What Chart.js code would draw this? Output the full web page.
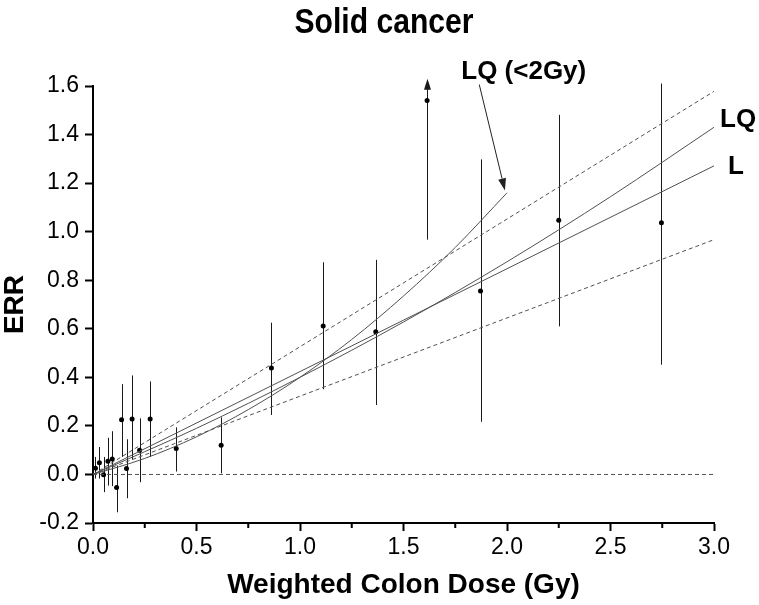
<!DOCTYPE html>
<html><head><meta charset="utf-8">
<script src="https://cdn.jsdelivr.net/npm/chart.js@4/dist/chart.umd.min.js"></script>
<style>html,body{margin:0;padding:0;background:#fff}</style>
</head><body>
<canvas id="c" width="759" height="605"></canvas>
<script>
// ---- data ----
const doses   = [0.012, 0.031, 0.051, 0.072, 0.093, 0.114, 0.138, 0.162, 0.189, 0.225, 0.276, 0.402, 0.619, 0.862, 1.112, 1.366, 1.614, 1.872, 2.250, 2.746];
const errVals = [0.026, 0.048, -0.001, 0.054, 0.064, -0.054, 0.225, 0.025, 0.228, 0.100, 0.228, 0.107, 0.120, 0.438, 0.611, 0.588, 1.540, 0.756, 1.047, 1.037];
const errLow  = [-0.017, -0.017, -0.073, -0.046, -0.048, -0.156, 0.072, -0.098, 0.062, -0.032, 0.072, 0.012, 0.005, 0.245, 0.351, 0.286, 0.967, 0.217, 0.610, 0.452];
const errHigh = [0.072, 0.113, 0.072, 0.151, 0.178, 0.037, 0.372, 0.145, 0.408, 0.231, 0.383, 0.194, 0.235, 0.625, 0.874, 0.884, 1.630, 1.298, 1.481, 1.610];
const errOpen = [false,false,false,false,false,false,false,false,false,false,false,false,false,false,false,false,true,false,false,false];

const lDose  = [0, 3.0];
const lERR   = [0, 1.271];
const lqDose = [0, 0.5, 1.0, 1.5, 2.0, 2.5, 3.0];
const lqERR  = [0, 0.190, 0.400, 0.628, 0.876, 1.144, 1.430];
const lq2Dose = [0, 0.25, 0.5, 0.75, 1.0, 1.25, 1.5, 1.75, 2.0];
const lq2ERR  = [0, 0.066, 0.155, 0.267, 0.400, 0.556, 0.735, 0.935, 1.160];
const ciDose  = [0, 3.0];
const ciUpper = [0, 1.578];
const ciLower = [0, 0.967];
const zeroDose = [0, 3.0];
const zeroERR  = [0, 0];

const xTicks = [0, 0.5, 1.0, 1.5, 2.0, 2.5, 3.0];
const xMinorTicks = [0.25, 0.75, 1.25, 1.75, 2.25, 2.75];
const yTicks = [-0.2, 0, 0.2, 0.4, 0.6, 0.8, 1.0, 1.2, 1.4, 1.6];

const titleText = 'Solid cancer';
const xTitle = 'Weighted Colon Dose (Gy)';
const yTitle = 'ERR';
const labelLQ2 = 'LQ (<2Gy)';
const labelLQ = 'LQ';
const labelL = 'L';
const arrowFrom = [1.866, 1.606];
const arrowTo   = [1.99, 1.17];

// ---- build ----
const pts = (xs, ys) => xs.map((x, i) => ({x, y: ys[i]}));
const FONT = "'Liberation Sans', Arial, sans-serif";
const lineCol = '#505050';

const lineDs = (label, xs, ys, dash, curved) => ({
  label, data: pts(xs, ys), showLine: true, pointRadius: 0, borderColor: lineCol,
  borderWidth: 1, borderDash: dash || [], fill: false,
  cubicInterpolationMode: curved ? 'monotone' : 'default', tension: 0
});

const errorBars = {
  id: 'errorBars',
  beforeDatasetsDraw(chart) {
    const {ctx, scales: {x, y}} = chart;
    ctx.save();
    ctx.strokeStyle = '#1a1a1a';
    ctx.fillStyle = '#1a1a1a';
    ctx.lineWidth = 1;
    doses.forEach((d, i) => {
      const px = Math.round(x.getPixelForValue(d)) + 0.5;
      const y1 = y.getPixelForValue(errLow[i]);
      const y2 = y.getPixelForValue(errHigh[i]);
      ctx.beginPath();
      ctx.moveTo(px, y1);
      ctx.lineTo(px, errOpen[i] ? y2 + 8 : y2);
      ctx.stroke();
      if (errOpen[i]) {
        ctx.beginPath();
        ctx.moveTo(px, y2);
        ctx.lineTo(px - 3.5, y2 + 11);
        ctx.lineTo(px + 3.5, y2 + 11);
        ctx.closePath();
        ctx.fill();
      }
    });
    ctx.restore();
  }
};

const decorations = {
  id: 'decorations',
  afterDraw(chart) {
    const {ctx, scales: {x, y}} = chart;
    ctx.save();
    // minor x ticks
    ctx.strokeStyle = '#000';
    ctx.lineWidth = 2;
    xMinorTicks.forEach(v => {
      const px = x.getPixelForValue(v);
      ctx.beginPath();
      ctx.moveTo(px, y.bottom);
      ctx.lineTo(px, y.bottom + 5);
      ctx.stroke();
    });
    // title (slightly condensed like the reference)
    ctx.fillStyle = '#000';
    ctx.font = "bold 35px " + FONT;
    ctx.textAlign = 'center';
    ctx.textBaseline = 'alphabetic';
    ctx.save();
    ctx.translate(384, 33);
    ctx.scale(0.86, 1);
    ctx.fillText(titleText, 0, 0);
    ctx.restore();
    // labels at line ends
    ctx.font = "bold 26px " + FONT;
    ctx.textAlign = 'left';
    ctx.textBaseline = 'middle';
    ctx.fillText(labelLQ, x.getPixelForValue(3.0) + 6, y.getPixelForValue(1.43) - 7);
    ctx.fillText(labelL, x.getPixelForValue(3.0) + 14, y.getPixelForValue(1.271) + 1);
    // LQ (<2Gy) label and arrow
    const ax1 = x.getPixelForValue(arrowFrom[0]), ay1 = y.getPixelForValue(arrowFrom[1]);
    const ax2 = x.getPixelForValue(arrowTo[0]), ay2 = y.getPixelForValue(arrowTo[1]);
    ctx.textAlign = 'left';
    ctx.textBaseline = 'alphabetic';
    ctx.fillText(labelLQ2, ax1 - 18, ay1 - 6);
    ctx.strokeStyle = '#222';
    ctx.fillStyle = '#222';
    ctx.lineWidth = 1;
    const ang = Math.atan2(ay2 - ay1, ax2 - ax1);
    const hl = 12, hw = 4;
    const bx = ax2 - hl * Math.cos(ang), by = ay2 - hl * Math.sin(ang);
    ctx.beginPath();
    ctx.moveTo(ax1, ay1);
    ctx.lineTo(bx, by);
    ctx.stroke();
    ctx.beginPath();
    ctx.moveTo(ax2, ay2);
    ctx.lineTo(bx + hw * Math.sin(ang), by - hw * Math.cos(ang));
    ctx.lineTo(bx - hw * Math.sin(ang), by + hw * Math.cos(ang));
    ctx.closePath();
    ctx.fill();
    ctx.restore();
  }
};

new Chart(document.getElementById('c'), {
  type: 'scatter',
  data: {
    datasets: [
      lineDs('zero', zeroDose, zeroERR, [4, 3]),
      lineDs('CI upper', ciDose, ciUpper, [4, 3]),
      lineDs('CI lower', ciDose, ciLower, [4, 3]),
      lineDs('L', lDose, lERR),
      lineDs('LQ', lqDose, lqERR, null, true),
      lineDs('LQ (<2Gy)', lq2Dose, lq2ERR, null, true),
      { label: 'ERR', data: pts(doses, errVals), pointRadius: 2.5, pointBackgroundColor: '#000',
        pointBorderWidth: 0, borderColor: '#000', showLine: false }
    ]
  },
  options: {
    responsive: false,
    animation: false,
    layout: { padding: { top: 86, right: 45, left: 0, bottom: 0 } },
    plugins: { legend: { display: false }, tooltip: { enabled: false }, title: { display: false } },
    scales: {
      x: {
        type: 'linear', min: 0, max: 3,
        afterBuildTicks: s => { s.ticks = xTicks.map(v => ({value: v})); },
        ticks: { callback: v => v.toFixed(1), font: { family: FONT, size: 23 }, color: '#000', padding: 3, maxRotation: 0 },
        grid: { drawOnChartArea: false, drawTicks: true, tickLength: 8, tickWidth: 2, tickColor: '#000' },
        border: { display: true, color: '#000', width: 2 },
        title: { display: true, text: xTitle, color: '#000', font: { family: FONT, size: 28, weight: 'bold', lineHeight: 1 }, padding: { top: 0, bottom: 6 } },
        afterFit: s => { s.height = 82; }
      },
      y: {
        type: 'linear', min: -0.2, max: 1.6,
        afterBuildTicks: s => { s.ticks = yTicks.map(v => ({value: v})); },
        ticks: { callback: v => v.toFixed(1), font: { family: FONT, size: 23 }, color: '#000', padding: 6 },
        grid: { drawOnChartArea: false, drawTicks: true, tickLength: 8, tickWidth: 2, tickColor: '#000' },
        border: { display: true, color: '#000', width: 2 },
        title: { display: true, text: yTitle, color: '#000', font: { family: FONT, size: 28, weight: 'bold', lineHeight: 1 }, padding: { top: 1, bottom: 0 } },
        afterFit: s => { s.width = 93; }
      }
    }
  },
  plugins: [errorBars, decorations]
});
</script>
</body></html>
